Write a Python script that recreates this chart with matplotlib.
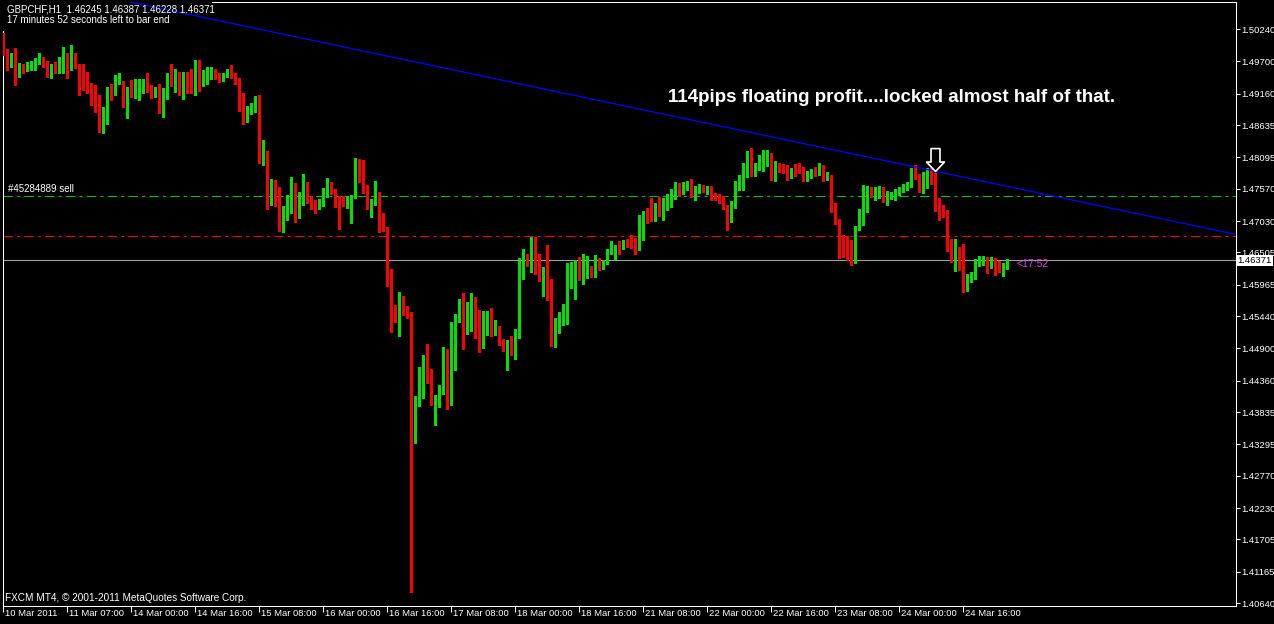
import numpy as np
import matplotlib
matplotlib.use('Agg')
import matplotlib.pyplot as plt
from matplotlib.path import Path
from matplotlib.patches import Rectangle
from matplotlib.transforms import blended_transform_factory, ScaledTranslation

# GBPCHF H1, 10 Mar 2011 15:00 .. 24 Mar 2011
opens = [
    1.4987, 1.4986, 1.4969, 1.4984, 1.4944, 1.4961, 1.4957, 1.4957, 1.4966, 1.4969,
    1.4977, 1.4964, 1.4950, 1.4962, 1.4950, 1.4964, 1.4982, 1.4957, 1.4982, 1.4962,
    1.4950, 1.4939, 1.4932, 1.4919, 1.4907, 1.4855, 1.4869, 1.4927, 1.4914, 1.4934,
    1.4922, 1.4900, 1.4925, 1.4915, 1.4927, 1.4927, 1.4937, 1.4924, 1.4919, 1.4924,
    1.4887, 1.4915, 1.4945, 1.4939, 1.4945, 1.4925, 1.4949, 1.4945, 1.4919, 1.4971,
    1.4934, 1.4939, 1.4942, 1.4955, 1.4947, 1.4942, 1.4947, 1.4955, 1.4947, 1.4939,
    1.4900, 1.4874, 1.4882, 1.4890, 1.4909, 1.4805, 1.4813, 1.4735, 1.4758, 1.4740,
    1.4700, 1.4718, 1.4738, 1.4757, 1.4715, 1.4731, 1.4755, 1.4735, 1.4731, 1.4730,
    1.4730, 1.4752, 1.4765, 1.4757, 1.4731, 1.4731, 1.4730, 1.4738, 1.4743, 1.4785,
    1.4777, 1.4763, 1.4723, 1.4735, 1.4750, 1.4698, 1.4691, 1.4616, 1.4553, 1.4536,
    1.4573, 1.4554, 1.4542, 1.4342, 1.4407, 1.4449, 1.4471, 1.4447, 1.4407, 1.4410,
    1.4415, 1.4472, 1.4397, 1.4512, 1.4537, 1.4556, 1.4529, 1.4537, 1.4574, 1.4512,
    1.4497, 1.4521, 1.4537, 1.4514, 1.4524, 1.4502, 1.4489, 1.4497, 1.4489, 1.4516,
    1.4616, 1.4638, 1.4633, 1.4671, 1.4633, 1.4614, 1.4624, 1.4583, 1.4501, 1.4524,
    1.4536, 1.4561, 1.4598, 1.4616, 1.4634, 1.4606, 1.4621, 1.4626, 1.4618, 1.4628,
    1.4626, 1.4633, 1.4655, 1.4658, 1.4661, 1.4658, 1.4665, 1.4663, 1.4661, 1.4658,
    1.4706, 1.4718, 1.4715, 1.4710, 1.4730, 1.4711, 1.4728, 1.4740, 1.4746, 1.4758,
    1.4753, 1.4760, 1.4763, 1.4745, 1.4755, 1.4758, 1.4755, 1.4758, 1.4745, 1.4743,
    1.4741, 1.4730, 1.4703, 1.4730, 1.4767, 1.4772, 1.4797, 1.4800, 1.4782, 1.4795,
    1.4795, 1.4808, 1.4813, 1.4780, 1.4793, 1.4792, 1.4790, 1.4778, 1.4790, 1.4788,
    1.4788, 1.4773, 1.4780, 1.4787, 1.4782, 1.4788, 1.4775, 1.4780, 1.4726, 1.4706,
    1.4680, 1.4658, 1.4653, 1.4633, 1.4695, 1.4705, 1.4721, 1.4753, 1.4748, 1.4750,
    1.4755, 1.4740, 1.4743, 1.4745, 1.4750, 1.4753, 1.4757, 1.4762, 1.4792, 1.4782,
    1.4753, 1.4772, 1.4787, 1.4772, 1.4735, 1.4730, 1.4718, 1.4655, 1.4648, 1.4655,
    1.4643, 1.4598, 1.4604, 1.4608, 1.4629, 1.4634, 1.4639, 1.4629, 1.4639, 1.4634,
    1.4623, 1.46245,
]
highs = [
    1.5017, 1.4991, 1.4984, 1.4992, 1.4967, 1.4966, 1.4969, 1.4971, 1.4976, 1.4984,
    1.4977, 1.4971, 1.4966, 1.4969, 1.4977, 1.4994, 1.4984, 1.4997, 1.4984, 1.4966,
    1.4966, 1.4952, 1.4934, 1.4930, 1.4914, 1.4894, 1.4927, 1.4932, 1.4947, 1.4950,
    1.4937, 1.4927, 1.4939, 1.4940, 1.4940, 1.4940, 1.4950, 1.4930, 1.4927, 1.4932,
    1.4925, 1.4950, 1.4966, 1.4957, 1.4952, 1.4952, 1.4952, 1.4957, 1.4972, 1.4972,
    1.4955, 1.4961, 1.4961, 1.4957, 1.4950, 1.4950, 1.4957, 1.4964, 1.4950, 1.4942,
    1.4917, 1.4895, 1.4900, 1.4912, 1.4914, 1.4838, 1.4820, 1.4773, 1.4772, 1.4760,
    1.4728, 1.4746, 1.4777, 1.4767, 1.4752, 1.4782, 1.4768, 1.4745, 1.4738, 1.4740,
    1.4758, 1.4775, 1.4768, 1.4757, 1.4745, 1.4745, 1.4745, 1.4746, 1.4808, 1.4807,
    1.4805, 1.4763, 1.4740, 1.4770, 1.4752, 1.4716, 1.4693, 1.4623, 1.4563, 1.4584,
    1.4578, 1.4561, 1.4551, 1.4410, 1.4459, 1.4479, 1.4497, 1.4456, 1.4412, 1.4429,
    1.4492, 1.4489, 1.4534, 1.4548, 1.4573, 1.4583, 1.4568, 1.4583, 1.4576, 1.4554,
    1.4553, 1.4553, 1.4558, 1.4537, 1.4527, 1.4506, 1.4504, 1.4511, 1.4522, 1.4641,
    1.4656, 1.4648, 1.4676, 1.4676, 1.4648, 1.4626, 1.4663, 1.4606, 1.4541, 1.4551,
    1.4564, 1.4633, 1.4634, 1.4638, 1.4643, 1.4648, 1.4644, 1.4628, 1.4646, 1.4641,
    1.4638, 1.4656, 1.4670, 1.4663, 1.4670, 1.4671, 1.4673, 1.4680, 1.4675, 1.4713,
    1.4720, 1.4725, 1.4741, 1.4733, 1.4743, 1.4741, 1.4748, 1.4757, 1.4768, 1.4767,
    1.4768, 1.4770, 1.4773, 1.4762, 1.4765, 1.4763, 1.4762, 1.4762, 1.4750, 1.4748,
    1.4745, 1.4730, 1.4736, 1.4770, 1.4780, 1.4800, 1.4820, 1.4825, 1.4800, 1.4813,
    1.4822, 1.4822, 1.4817, 1.4803, 1.4800, 1.4798, 1.4797, 1.4792, 1.4798, 1.4800,
    1.4793, 1.4787, 1.4790, 1.4793, 1.4800, 1.4797, 1.4785, 1.4780, 1.4733, 1.4706,
    1.4680, 1.4678, 1.4671, 1.4695, 1.4723, 1.4763, 1.4762, 1.4760, 1.4760, 1.4762,
    1.4760, 1.4753, 1.4752, 1.4757, 1.4760, 1.4765, 1.4768, 1.4792, 1.4797, 1.4782,
    1.4785, 1.4792, 1.4792, 1.4783, 1.4741, 1.4730, 1.4721, 1.4673, 1.4673, 1.4660,
    1.4665, 1.4614, 1.4618, 1.4639, 1.4644, 1.4644, 1.4643, 1.4643, 1.4641, 1.4636,
    1.4633, 1.46387,
]
lows = [
    1.4981, 1.4955, 1.4961, 1.4930, 1.4944, 1.4950, 1.4954, 1.4955, 1.4955, 1.4966,
    1.4961, 1.4944, 1.4942, 1.4950, 1.4950, 1.4950, 1.4942, 1.4955, 1.4959, 1.4914,
    1.4922, 1.4917, 1.4897, 1.4885, 1.4852, 1.4850, 1.4865, 1.4905, 1.4914, 1.4932,
    1.4894, 1.4875, 1.4910, 1.4909, 1.4905, 1.4917, 1.4919, 1.4909, 1.4910, 1.4884,
    1.4877, 1.4907, 1.4929, 1.4919, 1.4914, 1.4907, 1.4917, 1.4917, 1.4914, 1.4920,
    1.4929, 1.4932, 1.4940, 1.4940, 1.4935, 1.4937, 1.4944, 1.4942, 1.4932, 1.4887,
    1.4865, 1.4869, 1.4882, 1.4885, 1.4800, 1.4797, 1.4723, 1.4730, 1.4728, 1.4686,
    1.4685, 1.4705, 1.4716, 1.4701, 1.4708, 1.4730, 1.4733, 1.4723, 1.4716, 1.4723,
    1.4728, 1.4743, 1.4748, 1.4726, 1.4690, 1.4728, 1.4725, 1.4700, 1.4741, 1.4768,
    1.4750, 1.4723, 1.4710, 1.4730, 1.4685, 1.4686, 1.4594, 1.4517, 1.4534, 1.4511,
    1.4546, 1.4541, 1.4083, 1.4332, 1.4394, 1.4407, 1.4432, 1.4395, 1.4362, 1.4392,
    1.4414, 1.4389, 1.4395, 1.4454, 1.4534, 1.4489, 1.4514, 1.4519, 1.4507, 1.4484,
    1.4491, 1.4512, 1.4511, 1.4512, 1.4496, 1.4486, 1.4454, 1.4479, 1.4472, 1.4507,
    1.4606, 1.4628, 1.4618, 1.4614, 1.4603, 1.4578, 1.4571, 1.4494, 1.4492, 1.4516,
    1.4529, 1.4531, 1.4591, 1.4573, 1.4604, 1.4598, 1.4608, 1.4609, 1.4609, 1.4621,
    1.4623, 1.4631, 1.4648, 1.4639, 1.4648, 1.4656, 1.4660, 1.4658, 1.4648, 1.4655,
    1.4671, 1.4700, 1.4703, 1.4703, 1.4711, 1.4705, 1.4721, 1.4726, 1.4740, 1.4745,
    1.4748, 1.4755, 1.4743, 1.4738, 1.4750, 1.4752, 1.4748, 1.4738, 1.4738, 1.4733,
    1.4723, 1.4688, 1.4701, 1.4725, 1.4755, 1.4755, 1.4777, 1.4778, 1.4778, 1.4788,
    1.4787, 1.4795, 1.4772, 1.4770, 1.4785, 1.4783, 1.4772, 1.4775, 1.4778, 1.4783,
    1.4770, 1.4770, 1.4775, 1.4778, 1.4780, 1.4770, 1.4772, 1.4718, 1.4698, 1.4641,
    1.4643, 1.4638, 1.4629, 1.4633, 1.4688, 1.4696, 1.4718, 1.4743, 1.4738, 1.4741,
    1.4735, 1.4730, 1.4740, 1.4738, 1.4746, 1.4752, 1.4755, 1.4760, 1.4773, 1.4752,
    1.4750, 1.4758, 1.4765, 1.4720, 1.4705, 1.4710, 1.4653, 1.4634, 1.4619, 1.4621,
    1.4584, 1.4586, 1.4601, 1.4606, 1.4628, 1.4629, 1.4616, 1.4624, 1.4613, 1.4618,
    1.4611, 1.46228,
]
closes = [
    1.4982, 1.4969, 1.4984, 1.4944, 1.4961, 1.4957, 1.4961, 1.4966, 1.4971, 1.4977,
    1.4962, 1.4950, 1.4962, 1.4950, 1.4966, 1.4982, 1.4957, 1.4982, 1.4961, 1.4949,
    1.4937, 1.4930, 1.4917, 1.4905, 1.4855, 1.4870, 1.4927, 1.4914, 1.4935, 1.4945,
    1.4900, 1.4925, 1.4915, 1.4929, 1.4929, 1.4937, 1.4922, 1.4919, 1.4924, 1.4887,
    1.4917, 1.4944, 1.4939, 1.4945, 1.4925, 1.4949, 1.4944, 1.4919, 1.4971, 1.4934,
    1.4939, 1.4942, 1.4957, 1.4945, 1.4942, 1.4949, 1.4954, 1.4945, 1.4937, 1.4899,
    1.4874, 1.4884, 1.4889, 1.4909, 1.4805, 1.4813, 1.4735, 1.4758, 1.4740, 1.4700,
    1.4720, 1.4738, 1.4757, 1.4710, 1.4733, 1.4755, 1.4733, 1.4730, 1.4726, 1.4733,
    1.4753, 1.4765, 1.4755, 1.4730, 1.4730, 1.4730, 1.4740, 1.4743, 1.4785, 1.4775,
    1.4762, 1.4723, 1.4735, 1.4748, 1.4696, 1.4690, 1.4614, 1.4551, 1.4536, 1.4571,
    1.4553, 1.4541, 1.4342, 1.4409, 1.4451, 1.4472, 1.4446, 1.4407, 1.4412, 1.4419,
    1.4472, 1.4395, 1.4514, 1.4539, 1.4556, 1.4529, 1.4539, 1.4574, 1.4511, 1.4497,
    1.4522, 1.4537, 1.4514, 1.4524, 1.4501, 1.4491, 1.4497, 1.4489, 1.4517, 1.4616,
    1.4638, 1.4633, 1.4671, 1.4631, 1.4614, 1.4624, 1.4581, 1.4501, 1.4524, 1.4537,
    1.4563, 1.4599, 1.4618, 1.4636, 1.4606, 1.4621, 1.4626, 1.4618, 1.4634, 1.4626,
    1.4636, 1.4656, 1.4660, 1.4663, 1.4658, 1.4665, 1.4660, 1.4660, 1.4658, 1.4708,
    1.4720, 1.4713, 1.4708, 1.4730, 1.4711, 1.4728, 1.4740, 1.4746, 1.4758, 1.4752,
    1.4760, 1.4763, 1.4745, 1.4755, 1.4758, 1.4755, 1.4758, 1.4743, 1.4741, 1.4740,
    1.4730, 1.4703, 1.4730, 1.4767, 1.4772, 1.4797, 1.4800, 1.4780, 1.4795, 1.4800,
    1.4808, 1.4813, 1.4780, 1.4793, 1.4790, 1.4788, 1.4778, 1.4790, 1.4788, 1.4787,
    1.4773, 1.4783, 1.4787, 1.4782, 1.4788, 1.4775, 1.4780, 1.4725, 1.4706, 1.4678,
    1.4655, 1.4651, 1.4633, 1.4695, 1.4706, 1.4723, 1.4753, 1.4746, 1.4752, 1.4755,
    1.4740, 1.4743, 1.4746, 1.4752, 1.4755, 1.4758, 1.4762, 1.4792, 1.4780, 1.4753,
    1.4773, 1.4787, 1.4770, 1.4733, 1.4728, 1.4716, 1.4653, 1.4644, 1.4655, 1.4641,
    1.4598, 1.4606, 1.4609, 1.4631, 1.4641, 1.4639, 1.4631, 1.4639, 1.4633, 1.4621,
    1.4624, 1.46371,
]

date_labels = ['10 Mar 2011', '11 Mar 07:00', '14 Mar 00:00', '14 Mar 16:00',
               '15 Mar 08:00', '16 Mar 00:00', '16 Mar 16:00', '17 Mar 08:00',
               '18 Mar 00:00', '18 Mar 16:00', '21 Mar 08:00', '22 Mar 00:00',
               '22 Mar 16:00', '23 Mar 08:00', '24 Mar 00:00', '24 Mar 16:00']
bars_per_label = 16
price_ticks = [1.50240, 1.49700, 1.49160, 1.48635, 1.48095, 1.47570, 1.47030,
               1.46505, 1.45965, 1.45440, 1.44900, 1.44360, 1.43835, 1.43295,
               1.42770, 1.42230, 1.41705, 1.41165, 1.40640]

sell_price = 1.4745      # order #45284889
stop_price = 1.4678
bid_price = 1.46371
trend_bars = [34.7, 232.5]
trend_prices = [1.5065, 1.4787]
arrow_bar = 233
arrow_price = 1.4787
countdown_bar = 253.4

header = 'GBPCHF,H1  1.46245 1.46387 1.46228 1.46371'
timer = '17 minutes 52 seconds left to bar end'
order_label = '#45284889 sell'
comment = '114pips floating profit....locked almost half of that.'
footer = 'FXCM MT4, \u00a9 2001-2011 MetaQuotes Software Corp.'

BULL = '#00e000'
BEAR = '#ff0000'
SMALL = 'Liberation Sans'
FS = 6.8

W, H = 1274, 624
fig = plt.figure(figsize=(W / 100, H / 100), dpi=100, facecolor='black')
ax = fig.add_axes([3 / W, 18 / H, 1233 / W, 604 / H], facecolor='black')

o = np.array(opens)
h = np.array(highs)
l = np.array(lows)
c = np.array(closes)
idx = np.arange(len(c))
cols = np.where(c >= o, BULL, BEAR)

# candles
ax.vlines(idx, l, h, colors=cols, linewidth=0.75, antialiased=False, zorder=3)
body = np.maximum(np.abs(c - o), 0.00012)
ax.bar(idx, body, bottom=np.minimum(o, c), width=0.7, color=cols,
       linewidth=0, antialiased=False, zorder=3)

# order / stop / bid lines
ax.axhline(sell_price, color='#00c800', lw=0.75, ls=(0, (9, 4, 3, 4)), zorder=2)
ax.axhline(stop_price, color='#ff0000', lw=0.75, ls=(0, (9, 4, 3, 4)), zorder=2)
ax.axhline(bid_price, color='#a0a0a0', lw=0.8, zorder=2)

# trendline
ax.axline((trend_bars[0], trend_prices[0]), (trend_bars[1], trend_prices[1]),
          color='#0000ff', lw=0.9, zorder=4)

# hollow down arrow
arrow = Path([(0, 0), (-9, 9.5), (-4.5, 9.5), (-4.5, 23), (4.5, 23), (4.5, 9.5),
              (9, 9.5), (0, 0)],
             [Path.MOVETO] + [Path.LINETO] * 6 + [Path.CLOSEPOLY])
ax.plot([arrow_bar], [arrow_price], marker=arrow, ms=33, mfc='black', mec='white',
        mew=1.2, ls='none', zorder=6)

ax.set_xlim(-0.075, 308.2)
ax.set_ylim(1.40593, 1.50692)

# axes styling
for s in ax.spines.values():
    s.set_color('white')
    s.set_linewidth(0.75)
ax.yaxis.tick_right()
ax.set_yticks(price_ticks)
ax.set_yticklabels([f'{v:.5f}' for v in price_ticks])
ax.tick_params(axis='y', colors='white', length=3, width=0.75, pad=1,
               labelsize=FS, labelfontfamily=SMALL)
tick_bars = idx[::bars_per_label][:len(date_labels)]
ax.set_xticks(tick_bars)
ax.tick_params(axis='x', colors='white', length=4, width=0.75, labelbottom=False)

xt = blended_transform_factory(ax.transData, ax.transAxes)
for b, lab in zip(tick_bars, date_labels):
    ax.text(b, 0, lab, transform=xt + ScaledTranslation(0.02, -0.03, fig.dpi_scale_trans),
            ha='left', va='top', color='white', fontsize=FS, family=SMALL, clip_on=False)

# bid price box on the price scale
yt = blended_transform_factory(ax.transAxes, ax.transData)
ax.annotate(f'{bid_price:.5f}', xy=(1, bid_price), xycoords=yt, xytext=(1.2, 0),
            textcoords='offset points', ha='left', va='center', color='black',
            fontsize=FS, family=SMALL, annotation_clip=False, zorder=8,
            bbox=dict(boxstyle='square,pad=0.12', fc='white', ec='none'))

# order label and countdown
ax.text(0.004, sell_price, order_label, transform=yt + ScaledTranslation(0, 0.02, fig.dpi_scale_trans),
        ha='left', va='bottom', color='white', fontsize=7, family=SMALL, zorder=7)
ax.text(countdown_bar, bid_price, '<17:52',
        transform=ax.transData + ScaledTranslation(0, -0.035, fig.dpi_scale_trans),
        ha='left', va='center', color='#e040e0', fontsize=7.5, family=SMALL, zorder=7)

# black box behind chart header (hides the frame corner)
box = Rectangle((0, 1 - 31 / H), 212 / W, 31 / H, transform=fig.transFigure,
                facecolor='black', edgecolor='none', zorder=2.6)
ax.add_artist(box)
box.set_clip_on(False)

fig.text(7 / W, 1 - 9 / H, header, color='white', fontsize=7, family=SMALL, va='center')
fig.text(7 / W, 1 - 20 / H, timer, color='white', fontsize=7, family=SMALL, va='center')
fig.text(5 / W, 1 - 598 / H, footer, color='white', fontsize=7.2, family=SMALL, va='center')
fig.text(892 / W, 1 - 97 / H, comment, color='white', fontsize=13.5, fontweight='bold',
         family='Liberation Sans', ha='center', va='center')

fig.savefig('out.png', dpi=100, facecolor='black')
